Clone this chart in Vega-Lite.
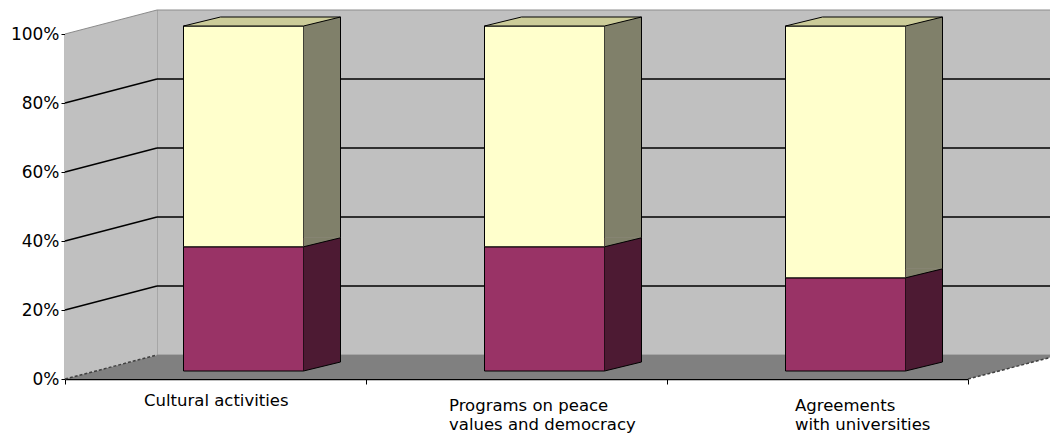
{
  "$schema": "https://vega.github.io/schema/vega-lite/v6.json",
  "width": 903,
  "height": 345,
  "autosize": "none",
  "padding": {"left": 65, "top": 34, "right": 82, "bottom": 61},
  "background": "white",
  "config": {"view": {"stroke": null}, "font": "DejaVu Sans", "axis": {"grid": false}},
  "datasets": {
    "shares": [
      {"category": "Cultural activities", "series": "Series1", "share": 0.36},
      {"category": "Cultural activities", "series": "Series2", "share": 0.64},
      {"category": "Programs on peace values and democracy", "series": "Series1", "share": 0.36},
      {"category": "Programs on peace values and democracy", "series": "Series2", "share": 0.64},
      {"category": "Agreements with universities", "series": "Series1", "share": 0.27},
      {"category": "Agreements with universities", "series": "Series2", "share": 0.73}
    ],
    "levels": [{"v": 0}, {"v": 0.2}, {"v": 0.4}, {"v": 0.6}, {"v": 0.8}, {"v": 1}]
  },
  "resolve": {"scale": {"x": "independent"}},
  "layer": [
    {
      "layer": [
        {
          "data": {"values": [{}]},
          "mark": {"type": "rect", "fill": "#c0c0c0", "stroke": "#8c8c8c", "strokeWidth": 1, "xOffset": 92, "x2Offset": 92, "yOffset": -24, "y2Offset": -24},
          "encoding": {
            "x": {"datum": 0, "type": "quantitative", "scale": {"domain": [0, 1], "nice": false, "zero": false}, "axis": null},
            "x2": {"datum": 1},
            "y": {"datum": 0, "type": "quantitative", "scale": {"domain": [0, 1], "nice": false}, "title": null},
            "y2": {"datum": 1}
          }
        },
        {
          "data": {"name": "levels"},
          "transform": [{"filter": "datum.v > 0 && datum.v < 1"}],
          "mark": {"type": "rule", "color": "black", "strokeWidth": 1.5, "xOffset": 92, "x2Offset": 92, "yOffset": -24},
          "encoding": {
            "x": {"datum": 0, "type": "quantitative", "axis": null},
            "x2": {"datum": 1},
            "y": {"field": "v", "type": "quantitative", "title": null}
          }
        },
        {
          "data": {"values": [{}]},
          "mark": {"type": "point", "filled": true, "fill": "#c0c0c0", "opacity": 1, "strokeWidth": 0, "size": 4, "shape": "M0 0 L0 -345 L92 -369 L92 -24 Z"},
          "encoding": {
            "x": {"datum": 0, "type": "quantitative", "axis": null},
            "y": {"datum": 0, "type": "quantitative", "title": null}
          }
        },
        {
          "data": {"name": "levels"},
          "transform": [{"filter": "datum.v > 0 && datum.v < 1"}],
          "mark": {"type": "rule", "color": "black", "strokeWidth": 1.5, "x2Offset": 92, "y2Offset": -24},
          "encoding": {
            "x": {"datum": 0, "type": "quantitative", "axis": null},
            "x2": {"datum": 0},
            "y": {"field": "v", "type": "quantitative", "title": null},
            "y2": {"field": "v"}
          }
        },
        {
          "data": {"name": "levels"},
          "transform": [{"filter": "datum.v == 1"}],
          "mark": {"type": "rule", "color": "#8c8c8c", "strokeWidth": 1, "x2Offset": 92, "y2Offset": -24},
          "encoding": {
            "x": {"datum": 0, "type": "quantitative", "axis": null},
            "x2": {"datum": 0},
            "y": {"field": "v", "type": "quantitative", "title": null},
            "y2": {"field": "v"}
          }
        },
        {
          "data": {"values": [{}]},
          "mark": {"type": "point", "filled": true, "fill": "#808080", "opacity": 1, "strokeWidth": 0, "size": 4, "shape": "M0 0 L92 -24 L995 -24 L903 0 Z"},
          "encoding": {
            "x": {"datum": 0, "type": "quantitative", "axis": null},
            "y": {"datum": 0, "type": "quantitative", "title": null}
          }
        },
        {
          "data": {"values": [{}]},
          "mark": {"type": "rule", "color": "#404040", "strokeWidth": 1.5, "strokeDash": [3, 2], "x2Offset": 92, "y2Offset": -24},
          "encoding": {
            "x": {"datum": 0, "type": "quantitative", "axis": null},
            "x2": {"datum": 0},
            "y": {"datum": 0, "type": "quantitative", "title": null},
            "y2": {"datum": 0}
          }
        },
        {
          "data": {"values": [{}]},
          "mark": {"type": "rule", "color": "#404040", "strokeWidth": 1.5, "strokeDash": [3, 2], "x2Offset": 92, "y2Offset": -24},
          "encoding": {
            "x": {"datum": 1, "type": "quantitative", "axis": null},
            "x2": {"datum": 1},
            "y": {"datum": 0, "type": "quantitative", "title": null},
            "y2": {"datum": 0}
          }
        }
      ]
    },
    {
      "data": {"name": "shares"},
      "transform": [
        {"stack": "share", "groupby": ["category"], "sort": [{"field": "series", "order": "ascending"}], "as": ["s0", "s1"]}
      ],
      "layer": [
        {
          "mark": {"type": "bar", "width": 120, "xOffset": 28, "yOffset": -8, "y2Offset": -8, "stroke": "black", "strokeWidth": 1},
          "encoding": {
            "x": {
              "field": "category", "type": "nominal", "sort": null,
              "scale": {"paddingInner": 0, "paddingOuter": 0},
              "axis": {
                "title": null, "domainColor": "black", "domainWidth": 1.5, "tickColor": "black", "tickSize": 5, "tickBand": "extent",
                "labelAngle": 0, "labelAlign": "left", "labelBaseline": "top", "labelFont": "DejaVu Sans", "labelFontSize": 16.5,
                "labelColor": "black", "labelLimit": 0, "labelLineHeight": 19,
                "labelOffset": {"condition": [{"test": "datum.value === 'Cultural activities'", "value": -72}, {"test": "datum.value === 'Programs on peace values and democracy'", "value": -68}], "value": -23},
                "labelPadding": {"condition": {"test": "datum.value === 'Cultural activities'", "value": 8}, "value": 13},
                "labelExpr": "datum.value === 'Programs on peace values and democracy' ? ['Programs on peace', 'values and democracy'] : datum.value === 'Agreements with universities' ? ['Agreements', 'with universities'] : datum.value"
              }
            },
            "y": {
              "field": "s0", "type": "quantitative",
              "scale": {"domain": [0, 1], "nice": false},
              "axis": {
                "title": null, "values": [0, 0.2, 0.4, 0.6, 0.8, 1], "format": ".0%", "grid": false,
                "domainColor": "black", "domainWidth": 1.5, "tickColor": "black", "tickSize": 4, "labelPadding": 2,
                "labelFont": "DejaVu Sans", "labelFontSize": 17, "labelColor": "black", "labelFlush": false, "labelOverlap": false
              }
            },
            "y2": {"field": "s1"},
            "color": {"field": "series", "type": "nominal", "scale": {"domain": ["Series1", "Series2"], "range": ["#993366", "#ffffcc"]}, "legend": null}
          }
        },
        {
          "mark": {"type": "bar", "width": 37, "xOffset": 106.5, "yOffset": -17, "y2Offset": -17, "strokeWidth": 0},
          "encoding": {
            "x": {"field": "category", "type": "nominal", "sort": null, "title": null},
            "y": {"field": "s0", "type": "quantitative", "title": null},
            "y2": {"field": "s1"},
            "fill": {"field": "series", "type": "nominal", "scale": {"domain": ["Series1", "Series2"], "range": ["#4d1a33", "#80806a"]}, "legend": null}
          }
        },
        {
          "mark": {"type": "point", "filled": true, "opacity": 1, "strokeWidth": 0, "size": 4, "shape": "M88 -8 L88 -17 L125 -17 Z"},
          "encoding": {
            "x": {"field": "category", "type": "nominal", "sort": null, "title": null},
            "y": {"field": "s0", "type": "quantitative", "title": null},
            "fill": {"field": "series", "type": "nominal", "legend": null}
          }
        },
        {
          "transform": [{"filter": "datum.series === 'Series2'"}],
          "mark": {"type": "point", "filled": true, "fill": "#cccc99", "stroke": "black", "strokeWidth": 1, "opacity": 1, "size": 4, "shape": "M-32 -8 L5 -17 L125 -17 L88 -8 Z"},
          "encoding": {
            "x": {"field": "category", "type": "nominal", "sort": null, "title": null},
            "y": {"field": "s1", "type": "quantitative", "title": null}
          }
        },
        {
          "mark": {"type": "point", "filled": false, "fill": null, "stroke": "black", "strokeWidth": 1, "opacity": 1, "size": 4, "shape": "M88 -8 L125 -17"},
          "encoding": {
            "x": {"field": "category", "type": "nominal", "sort": null, "title": null},
            "y": {"field": "s0", "type": "quantitative", "title": null}
          }
        },
        {
          "mark": {"type": "rule", "color": "black", "strokeWidth": 1, "xOffset": 125, "yOffset": -17, "y2Offset": -17},
          "encoding": {
            "x": {"field": "category", "type": "nominal", "sort": null, "title": null},
            "y": {"field": "s0", "type": "quantitative", "title": null},
            "y2": {"field": "s1"}
          }
        }
      ]
    }
  ]
}
